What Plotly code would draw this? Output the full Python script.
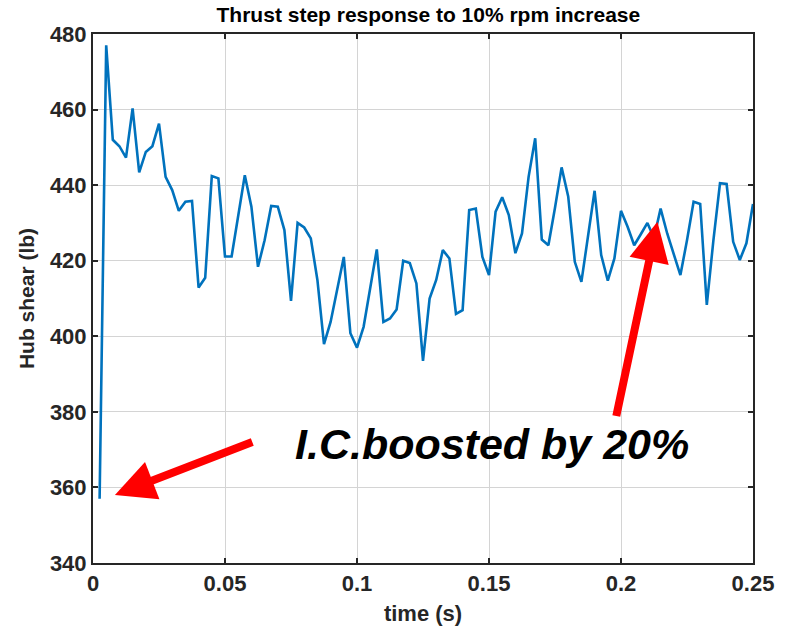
import plotly.graph_objects as go

# time samples (s)
time_s = [0.0025, 0.005, 0.0075, 0.01, 0.0125, 0.015, 0.0175, 0.02, 0.0225, 0.025,
          0.0275, 0.03, 0.0325, 0.035, 0.0375, 0.04, 0.0425, 0.045, 0.0475, 0.05,
          0.0525, 0.055, 0.0575, 0.06, 0.0625, 0.065, 0.0675, 0.07, 0.0725, 0.075,
          0.0775, 0.08, 0.0825, 0.085, 0.0875, 0.09, 0.0925, 0.095, 0.0975, 0.1,
          0.1025, 0.105, 0.1075, 0.11, 0.1125, 0.115, 0.1175, 0.12, 0.1225, 0.125,
          0.1275, 0.13, 0.1325, 0.135, 0.1375, 0.14, 0.1425, 0.145, 0.1475, 0.15,
          0.1525, 0.155, 0.1575, 0.16, 0.1625, 0.165, 0.1675, 0.17, 0.1725, 0.175,
          0.1775, 0.18, 0.1825, 0.185, 0.1875, 0.19, 0.1925, 0.195, 0.1975, 0.2,
          0.2025, 0.205, 0.2075, 0.21, 0.2125, 0.215, 0.2175, 0.22, 0.2225, 0.225,
          0.2275, 0.23, 0.2325, 0.235, 0.2375, 0.24, 0.2425, 0.245, 0.2475, 0.25]

# hub shear (lb)
hub_shear = [357.0, 477.0, 452.0, 450.3, 447.3, 460.3, 443.4, 448.8, 450.3, 456.3,
             442.2, 438.7, 433.2, 435.6, 435.8, 412.9, 415.5, 442.4, 441.8, 421.1,
             421.1, 432.0, 442.6, 434.3, 418.4, 425.4, 434.5, 434.3, 428.1, 409.4,
             430.0, 428.8, 425.9, 414.9, 397.9, 403.8, 412.2, 421.0, 400.8, 397.0,
             402.5, 413.1, 423.0, 403.8, 404.7, 407.1, 420.0, 419.4, 414.0, 393.5,
             410.0, 414.9, 422.8, 420.6, 405.9, 406.9, 433.4, 433.8, 421.0, 416.2,
             433.0, 436.8, 432.1, 422.0, 427.2, 442.2, 452.4, 425.6, 424.1, 434.0,
             444.7, 437.0, 419.7, 414.4, 426.0, 438.5, 421.5, 414.7, 420.6, 433.2,
             429.0, 424.1, 427.0, 430.0, 426.0, 433.8, 427.2, 422.0, 416.2, 425.4,
             435.6, 435.0, 408.3, 425.4, 440.5, 440.3, 425.0, 420.2, 424.6, 435.0]

x_ticks = [0, 0.05, 0.1, 0.15, 0.2, 0.25]
x_tick_labels = ["0", "0.05", "0.1", "0.15", "0.2", "0.25"]
y_ticks = [340, 360, 380, 400, 420, 440, 460, 480]

title_text = "Thrust step response to 10% rpm increase"
x_title = "time (s)"
y_title = "Hub shear (lb)"
note_text = "I.C.boosted by 20%"

FONT = "Liberation Sans, Arial, Helvetica, sans-serif"

fig = go.Figure()
fig.add_trace(go.Scatter(x=time_s, y=hub_shear, mode="lines",
                         line=dict(color="#0072BD", width=2.6),
                         showlegend=False))

axis_common = dict(
    showline=True, linecolor="#262626", linewidth=2, mirror="ticks",
    ticks="inside", ticklen=5, tickwidth=2, tickcolor="#262626",
    showgrid=True, gridcolor="#D4D4D4", gridwidth=1.3,
    zeroline=False,
    tickfont=dict(family=FONT, size=22, color="#262626", weight="bold"),
)

fig.update_layout(
    width=786, height=634,
    margin=dict(l=93, r=27, t=34, b=71),
    paper_bgcolor="white", plot_bgcolor="white",
    title=dict(text="<b>" + title_text + "</b>", x=0.545, xanchor="center",
               y=0.977, yanchor="middle",
               font=dict(family=FONT, size=21, color="black")),
    xaxis=dict(range=[0, 0.25], tickvals=x_ticks, ticktext=x_tick_labels,
               title=dict(text="<b>" + x_title + "</b>", standoff=10,
                          font=dict(family=FONT, size=22, color="#262626")),
               **axis_common),
    yaxis=dict(range=[340, 480], tickvals=y_ticks,
               title=dict(text="<b>" + y_title + "</b>", standoff=10,
                          font=dict(family=FONT, size=21, color="#262626")),
               **axis_common),
)

# annotation text
fig.add_annotation(x=0.1513, y=371.5, xref="x", yref="y", text="<b><i>" + note_text + "</i></b>",
                   showarrow=False, font=dict(family=FONT, size=43, color="black"))

# arrows
fig.add_annotation(x=0.0083, y=358.0, ax=0.0609, ay=372.2, xref="x", yref="y",
                   axref="x", ayref="y", text="", showarrow=True,
                   arrowhead=2, arrowsize=1.0, arrowwidth=8, arrowcolor="#FF0000")
fig.add_annotation(x=0.2138, y=430.3, ax=0.1981, ay=378.5, xref="x", yref="y",
                   axref="x", ayref="y", text="", showarrow=True,
                   arrowhead=2, arrowsize=1.0, arrowwidth=8, arrowcolor="#FF0000")

fig.write_html("out.html")
